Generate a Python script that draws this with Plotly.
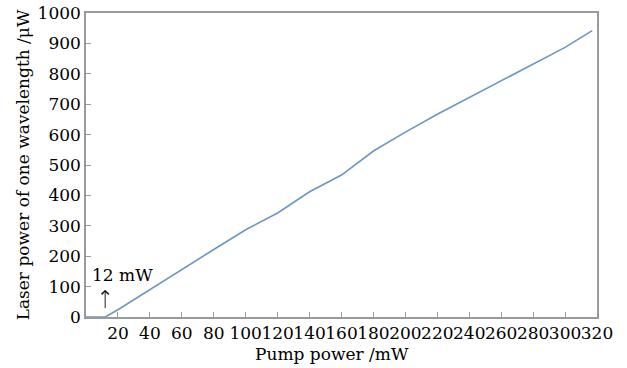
import plotly.graph_objects as go

# Pump power (mW) and laser power of one wavelength (µW)
pump_mw = [0, 12, 20, 40, 60, 80, 100, 120, 140, 160, 180, 200, 220, 240, 260, 280, 300, 317]
laser_uw = [0, 0, 24, 90, 158, 222, 287, 342, 412, 467, 546, 608, 667, 722, 775, 832, 887, 942]

x_ticks = list(range(20, 321, 20))
y_ticks = list(range(0, 1001, 100))

threshold_x = 12
threshold_label = "12 mW"

FONT = "DejaVu Serif"
TEXT = "#000000"
AXIS = "#9a9a9a"

fig = go.Figure()
fig.add_trace(go.Scatter(
    x=pump_mw, y=laser_uw, mode="lines",
    line=dict(color="#6b96c6", width=1.6),
    showlegend=False, hoverinfo="skip",
))

# threshold marker: label and a thin upward arrow above x = 12 mW
fig.add_annotation(x=threshold_x + 11, y=139, text=threshold_label, showarrow=False,
                   font=dict(family=FONT, size=17, color=TEXT))
fig.add_annotation(x=threshold_x, y=90, text="", showarrow=True, ax=0, ay=20,
                   arrowhead=4, arrowsize=1.4, arrowwidth=1, arrowcolor="#222222")

# x-axis title placed under the tick labels
fig.add_annotation(x=0.481, y=0, xref="paper", yref="paper", yshift=-37,
                   text="Pump power /mW", showarrow=False, yanchor="middle",
                   font=dict(family=FONT, size=17, color=TEXT))

axis_common = dict(
    showgrid=False, zeroline=False, showline=True, linecolor=AXIS, linewidth=1.5,
    mirror=True, ticks="inside", ticklen=5, tickwidth=1, tickcolor=AXIS,
    tickfont=dict(family=FONT, size=17, color=TEXT), tickangle=0, automargin=False,
)

fig.update_xaxes(range=[0, 320], tickvals=x_ticks, ticktext=[str(v) for v in x_ticks],
                 **axis_common)
fig.update_yaxes(range=[0, 1000], tickvals=y_ticks, ticktext=[str(v) for v in y_ticks],
                 title=dict(text="Laser power of one wavelength /μW",
                            font=dict(family=FONT, size=17, color=TEXT), standoff=4),
                 **axis_common)

fig.update_layout(
    width=627, height=368,
    margin=dict(l=86, r=30, t=13, b=51),
    paper_bgcolor="white", plot_bgcolor="white",
)

fig.write_html("out.html")
